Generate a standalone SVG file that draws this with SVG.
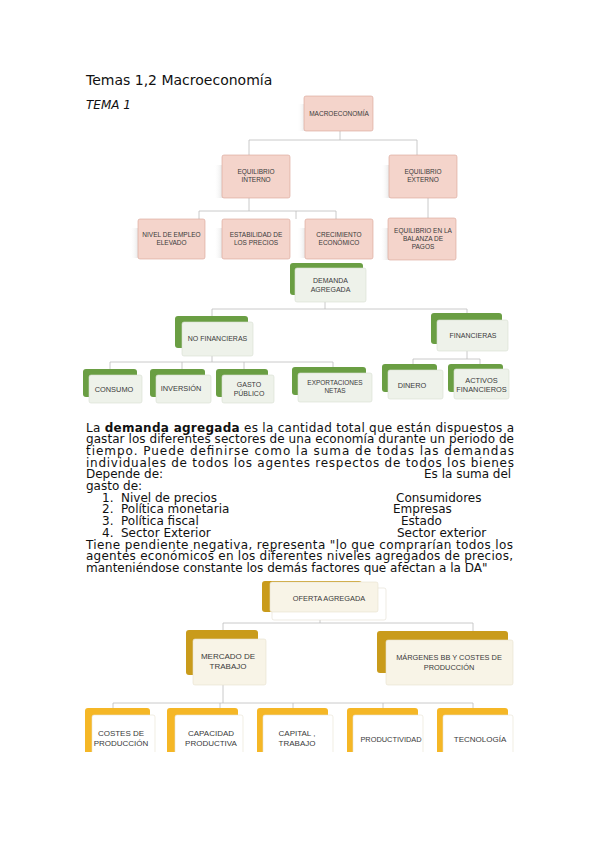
<svg xmlns="http://www.w3.org/2000/svg" width="599" height="848" viewBox="0 0 599 848">
<defs>
<style>
.t{font-family:"Liberation Sans",Arial,sans-serif;font-size:6.5px;fill:#3a3a3a;text-anchor:middle}
.g7{font-size:7px}
.g75{font-size:7.4px}
.o8{font-size:8px}
.p{font-family:"DejaVu Sans",Verdana,sans-serif;font-size:12px;fill:#111}
.pk{fill:#F4D4CB;stroke:#D9A396;stroke-width:0.6}
.sh{fill:url(#shg)}
.gb{fill:#6A9E43}
.gf{fill:#EEF2EA;stroke:#D6DDD1;stroke-width:0.6}
.ob{fill:#C99B1B}
.of{fill:#F8F4E7;stroke:#E6E0CC;stroke-width:0.6}
.wc{fill:#FFFFFF;stroke:#E2DED2;stroke-width:0.6}
.yb{fill:#F5B726}
.yf{fill:#FFFFFF;stroke:#E8E2D2;stroke-width:0.6}
.c{stroke:#BDBDBD;stroke-width:0.8;fill:none}
</style>
<linearGradient id="shg" x1="0" y1="0" x2="1" y2="0">
<stop offset="0" stop-color="#ffffff" stop-opacity="0"/>
<stop offset="1" stop-color="#d8d8d8" stop-opacity="0.9"/>
</linearGradient>
<clipPath id="pg"><rect x="0" y="0" width="599" height="752"/></clipPath>
</defs>
<rect width="599" height="848" fill="#ffffff"/>

<text x="86" y="85" style="font-family:'DejaVu Sans',Verdana,sans-serif;font-size:14px;fill:#111">Temas 1,2 Macroeconomía</text>
<text x="86" y="109" style="font-family:'DejaVu Sans',Verdana,sans-serif;font-size:12px;font-style:italic;fill:#111">TEMA 1</text>

<g id="connectors">
<path class="c" d="M340 131V140M249 140H417M249 140V155M417 140V155"/>
<path class="c" d="M249 198V211M199 211H336M199 211V219M296 211V219M336 211V219M428 198V218"/>
<path class="c" d="M325 302V309M212 309H467M212 309V316M467 309V313"/>
<path class="c" d="M212 356V362M110 362H333M110 362V369M182 362V369M244 362V369M333 362V367"/>
<path class="c" d="M467 351V359M413 359H480M413 359V364M480 359V364"/>
<path class="c" d="M320 620V623M223 623H473M223 623V630M473 623V631"/>
<path class="c" d="M223 685V703M113 703H473M113 703V708M220 703V708M293 703V708M383 703V708M473 703V708"/>
</g>

<g id="n-macro"><rect class="sh" x="297" y="104" width="10" height="27"/><rect class="pk" x="304" y="96" width="69" height="35" rx="2"/><text class="t" x="339" y="116">MACROECONOMÍA</text></g>
<g id="n-eqint"><rect class="sh" x="214" y="165" width="10" height="33"/><rect class="pk" x="222" y="155" width="68" height="43" rx="2"/><text class="t" x="256" y="174">EQUILIBRIO</text><text class="t" x="256" y="182">INTERNO</text></g>
<g id="n-eqext"><rect class="sh" x="381" y="165" width="10" height="33"/><rect class="pk" x="389" y="155" width="68" height="43" rx="2"/><text class="t" x="423" y="174">EQUILIBRIO</text><text class="t" x="423" y="182">EXTERNO</text></g>
<g id="n-empleo"><rect class="sh" x="130" y="228" width="10" height="30"/><rect class="pk" x="138" y="219" width="67" height="40" rx="2"/><text class="t" x="171.5" y="237">NIVEL DE EMPLEO</text><text class="t" x="171.5" y="245">ELEVADO</text></g>
<g id="n-precios"><rect class="sh" x="214" y="228" width="10" height="30"/><rect class="pk" x="222" y="219" width="68" height="40" rx="2"/><text class="t" x="256" y="237">ESTABILIDAD DE</text><text class="t" x="256" y="245">LOS PRECIOS</text></g>
<g id="n-crec"><rect class="sh" x="297" y="228" width="10" height="30"/><rect class="pk" x="305" y="219" width="68" height="40" rx="2"/><text class="t" x="339" y="237">CRECIMIENTO</text><text class="t" x="339" y="245">ECONÓMICO</text></g>
<g id="n-balanza"><rect class="sh" x="380" y="228" width="10" height="32"/><rect class="pk" x="388" y="218" width="68" height="42" rx="2"/><text class="t" x="423" y="233">EQUILIBRIO EN LA</text><text class="t" x="423" y="241">BALANZA DE</text><text class="t" x="423" y="249">PAGOS</text></g>

<g id="n-da"><rect class="gb" x="290" y="263" width="73" height="32" rx="3"/><rect class="gf" x="295" y="268" width="71" height="34" rx="2"/><text class="t g7" x="330.5" y="283">DEMANDA</text><text class="t g7" x="330.5" y="292">AGREGADA</text></g>
<g id="n-nofin"><rect class="gb" x="175" y="316" width="73" height="32" rx="3"/><rect class="gf" x="182" y="322" width="71" height="34" rx="2"/><text class="t g7" x="217.5" y="341">NO FINANCIERAS</text></g>
<g id="n-fin"><rect class="gb" x="431" y="313" width="71" height="31" rx="3"/><rect class="gf" x="437" y="320" width="71" height="31" rx="2"/><text class="t g7" x="473" y="338">FINANCIERAS</text></g>
<g id="n-consumo"><rect class="gb" x="83" y="369" width="54" height="28" rx="3"/><rect class="gf" x="89" y="375" width="53" height="28" rx="2"/><text class="t g75" x="114" y="392">CONSUMO</text></g>
<g id="n-inversion"><rect class="gb" x="150" y="369" width="55" height="28" rx="3"/><rect class="gf" x="156" y="375" width="55" height="28" rx="2"/><text class="t g75" x="181" y="391">INVERSIÓN</text></g>
<g id="n-gasto"><rect class="gb" x="216" y="369" width="52" height="28" rx="3"/><rect class="gf" x="222" y="375" width="52" height="28" rx="2"/><text class="t g7" x="249" y="387">GASTO</text><text class="t g7" x="249" y="396">PÚBLICO</text></g>
<g id="n-export"><rect class="gb" x="292" y="367" width="74" height="28" rx="3"/><rect class="gf" x="298" y="373" width="74" height="29" rx="2"/><text class="t" x="335" y="385">EXPORTACIONES</text><text class="t" x="335" y="393">NETAS</text></g>
<g id="n-dinero"><rect class="gb" x="382" y="364" width="55" height="28" rx="3"/><rect class="gf" x="388" y="370" width="55" height="29" rx="2"/><text class="t g75" x="412" y="388">DINERO</text></g>
<g id="n-activos"><rect class="gb" x="448" y="364" width="55" height="28" rx="3"/><rect class="gf" x="454" y="369" width="55" height="30" rx="2"/><text class="t g75" x="481.5" y="383">ACTIVOS</text><text class="t g75" x="481.5" y="392">FINANCIEROS</text></g>

<g id="paragraph" class="p">
<text x="86" y="431.5" textLength="428" lengthAdjust="spacing">La <tspan font-weight="bold">demanda agregada</tspan> es la cantidad total que están dispuestos a</text>
<text x="86" y="443.2" textLength="428" lengthAdjust="spacing">gastar los diferentes sectores de una economía durante un periodo de</text>
<text x="86" y="454.9" textLength="428" lengthAdjust="spacing">tiempo. Puede definirse como la suma de todas las demandas</text>
<text x="86" y="466.6" textLength="428" lengthAdjust="spacing">individuales de todos los agentes respectos de todos los bienes</text>
<text x="86" y="478.3">Depende de:</text>
<text x="424" y="478.3">Es la suma del</text>
<text x="86" y="490">gasto de:</text>
<text x="102" y="501.7">1.</text><text x="121" y="501.7">Nivel de precios</text><text x="396" y="501.7">Consumidores</text>
<text x="102" y="513.4">2.</text><text x="121" y="513.4">Política monetaria</text><text x="393" y="513.4">Empresas</text>
<text x="102" y="525.1">3.</text><text x="121" y="525.1">Política fiscal</text><text x="401" y="525.1">Estado</text>
<text x="102" y="536.8">4.</text><text x="121" y="536.8">Sector Exterior</text><text x="397" y="536.8">Sector exterior</text>
<text x="86" y="548.5" textLength="427" lengthAdjust="spacing">Tiene pendiente negativa, representa "lo que comprarían todos los</text>
<text x="86" y="560.2" textLength="427" lengthAdjust="spacing">agentes económicos en los diferentes niveles agregados de precios,</text>
<text x="86" y="571.9">manteniéndose constante los demás factores que afectan a la DA"</text>
</g>

<g id="n-oa"><rect class="wc" x="272" y="588" width="114" height="32" rx="2"/><rect class="ob" x="262" y="581" width="100" height="31" rx="3"/><rect class="of" x="270" y="582" width="108" height="30" rx="2"/><text class="t g75" x="329" y="601">OFERTA AGREGADA</text></g>
<g id="n-mercado"><rect class="ob" x="186" y="630" width="72" height="45" rx="3"/><rect class="of" x="193" y="639" width="73" height="46" rx="2"/><text class="t o8" x="228" y="659">MERCADO DE</text><text class="t o8" x="228" y="669">TRABAJO</text></g>
<g id="n-margenes"><rect class="ob" x="377" y="631" width="131" height="42" rx="3"/><rect class="of" x="386" y="640" width="127" height="45" rx="2"/><text class="t g75" x="449" y="660">MÁRGENES BB Y COSTES DE</text><text class="t g75" x="449" y="670">PRODUCCIÓN</text></g>

<g clip-path="url(#pg)">
<g id="n-costes"><rect class="yb" x="85" y="708" width="65" height="50" rx="3"/><rect class="yf" x="92" y="715" width="63" height="50" rx="2"/><text class="t o8" x="121" y="736">COSTES DE</text><text class="t o8" x="121" y="746">PRODUCCIÓN</text></g>
<g id="n-capacidad"><rect class="yb" x="167" y="708" width="71" height="50" rx="3"/><rect class="yf" x="175" y="715" width="68" height="50" rx="2"/><text class="t o8" x="211" y="736">CAPACIDAD</text><text class="t o8" x="211" y="746">PRODUCTIVA</text></g>
<g id="n-capital"><rect class="yb" x="257" y="708" width="71" height="50" rx="3"/><rect class="yf" x="263" y="715" width="70" height="50" rx="2"/><text class="t o8" x="297" y="736">CAPITAL ,</text><text class="t o8" x="297" y="746">TRABAJO</text></g>
<g id="n-productividad"><rect class="yb" x="347" y="708" width="71" height="50" rx="3"/><rect class="yf" x="353" y="715" width="70" height="50" rx="2"/><text class="t g75" x="391" y="742">PRODUCTIVIDAD</text></g>
<g id="n-tecnologia"><rect class="yb" x="437" y="708" width="71" height="50" rx="3"/><rect class="yf" x="443" y="715" width="70" height="50" rx="2"/><text class="t o8" x="480" y="742">TECNOLOGÍA</text></g>
</g>
</svg>
